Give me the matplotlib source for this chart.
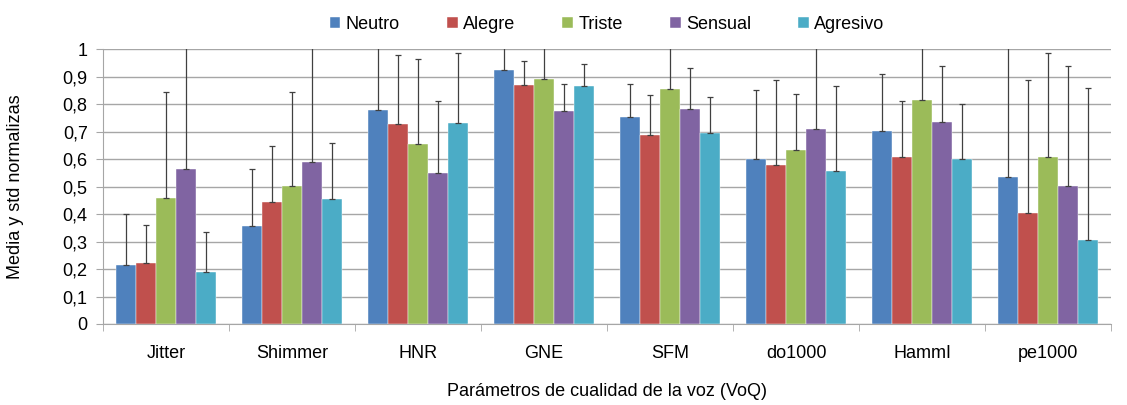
import matplotlib.pyplot as plt
import numpy as np

plt.rcParams['font.family'] = ['Liberation Sans Narrow', 'Liberation Sans', 'DejaVu Sans']

params = ["Jitter", "Shimmer", "HNR", "GNE", "SFM", "do1000", "HammI", "pe1000"]
series = ["Neutro", "Alegre", "Triste", "Sensual", "Agresivo"]
colors = ["#4F81BD", "#C0504D", "#9BBB59", "#8064A2", "#4BACC6"]

# medias
neutro   = [0.215, 0.357, 0.778, 0.922, 0.753, 0.600, 0.702, 0.533]
alegre   = [0.222, 0.443, 0.726, 0.869, 0.689, 0.578, 0.607, 0.404]
triste   = [0.457, 0.502, 0.653, 0.891, 0.853, 0.634, 0.815, 0.607]
sensual  = [0.565, 0.588, 0.550, 0.776, 0.781, 0.709, 0.733, 0.503]
agresivo = [0.190, 0.455, 0.731, 0.867, 0.695, 0.556, 0.600, 0.305]

# desviaciones (solo hacia arriba)
std_neutro   = [0.185, 0.206, 0.25, 0.12, 0.121, 0.250, 0.206, 0.50]
std_alegre   = [0.138, 0.203, 0.254, 0.086, 0.145, 0.308, 0.203, 0.484]
std_triste   = [0.386, 0.341, 0.312, 0.15, 0.20, 0.202, 0.20, 0.378]
std_sensual  = [0.50, 0.45, 0.262, 0.098, 0.149, 0.35, 0.204, 0.434]
std_agresivo = [0.143, 0.202, 0.253, 0.080, 0.129, 0.309, 0.200, 0.555]

means = [neutro, alegre, triste, sensual, agresivo]
stds = [std_neutro, std_alegre, std_triste, std_sensual, std_agresivo]

fig = plt.figure(figsize=(11.27, 4.05), dpi=100)
ax = fig.add_axes([0.0914, 0.2, 0.8946, 0.679])

x = np.arange(len(params))
w = 0.158
for i, (m, s) in enumerate(zip(means, stds)):
    pos = x + (i - 2) * w
    ax.bar(pos, m, w, color=colors[i], label=series[i], zorder=2,
           edgecolor='white', linewidth=0.3)
    ax.errorbar(pos, m, yerr=[np.zeros(len(m)), s], fmt='none',
                ecolor='#404040', elinewidth=0.9, capsize=2, capthick=0.9, zorder=3)

ax.set_ylim(0, 1)
ax.set_xlim(-0.5, len(params) - 0.5)
ax.set_yticks(np.arange(0, 1.01, 0.1))
ax.set_yticklabels([("%.1f" % v).replace('.', ',') if v not in (0, 1) else "%d" % v
                    for v in np.arange(0, 1.01, 0.1)], fontsize=13)
ax.yaxis.grid(True, color='#A6A6A6', linewidth=1, zorder=0)
ax.set_axisbelow(True)

ax.set_xticks(x)
ax.set_xticklabels(params, fontsize=13)
ax.tick_params(axis='x', length=0, pad=15)
ax.set_xticks(np.arange(-0.5, len(params), 1), minor=True)
ax.tick_params(axis='x', which='minor', length=5, color='#A6A6A6')
ax.tick_params(axis='y', length=5, color='#A6A6A6', pad=6)

for sp in ['top', 'right']:
    ax.spines[sp].set_visible(False)
for sp in ['left', 'bottom']:
    ax.spines[sp].set_color('#A6A6A6')

ax.set_ylabel("Media y std normalizas", fontsize=13, labelpad=28)
fig.text(0.0914 + 0.8946 / 2, 0.012, "Parámetros de cualidad de la voz (VoQ)",
         fontsize=13, ha='center', va='bottom')

ax.legend(loc='lower center', bbox_to_anchor=(0.5, 1.0), ncol=5, frameon=False,
          fontsize=13, handlelength=0.6, handleheight=0.6, columnspacing=2.6,
          handletextpad=0.3)

fig.savefig("out.png", dpi=100)
